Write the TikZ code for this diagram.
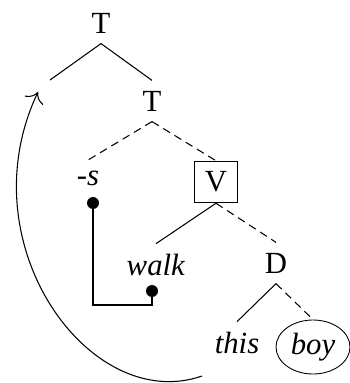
\documentclass[tikz,border=0pt]{standalone}
\usepackage{fontspec}
\setmainfont{Liberation Serif}
\usetikzlibrary{arrows, arrows.meta, calc, shapes.geometric}

\begin{document}
\begin{tikzpicture}[every node/.style={font=\fontsize{17.5}{20}\selectfont, inner sep=0.2cm},
		line width=0.6pt,
		dep/.style={dash pattern=on 4.5pt off 3pt},
		dot/.style={circle, fill, inner sep=0pt, minimum size=0.24cm}]
		\useasboundingbox (0,0) rectangle (6.98,-7.66);
		\node (t1) at (2.02,-0.46) {T};
		\coordinate (tgap) at (1.0,-1.6);
		\node (t2) at (3.04,-2.02) {T};
		\node (suf) at (1.76,-3.56) {-\textit{s}};
		\node[draw, line width=0.5pt, inner sep=0.21cm] (v) at (4.32,-3.64) {V};
		\node (walk) at (3.12,-5.30) {\textit{walk}};
		\node (d) at (5.52,-5.26) {D};
		\node (this) at (4.74,-6.86) {\textit{this}};
		\node[ellipse, draw, line width=0.5pt, inner sep=0pt, minimum width=1.48cm, minimum height=1.08cm] (boy) at (6.26,-6.94) {\textit{boy}};
		\node[dot] (sdot) at (1.86,-4.06) {};
		\node[dot] (wdot) at (3.04,-5.82) {};
		\coordinate (tail) at (4.04,-7.52);
		\coordinate (landing) at (0.76,-1.84);
		\draw (t1.south) -- (tgap); \draw (t1.south) -- (t2.north);
		\draw[dep] (t2.south) -- (suf.north); \draw[dep] (t2.south) -- (v.north);
		\draw (v.south) -- (walk.north); \draw[dep] (v.south) -- (d.north);
		\draw (d.south) -- (this.north); \draw[dep] (d.south) -- (boy.north);
		\draw (sdot.center) |- ($(wdot.center)+(0,-0.28)$) -- (wdot.center);
		\draw[-{To[scale=1.9]}] (tail) .. controls (1.8,-8.3) and (-0.68,-4.88) .. (landing);
	\end{tikzpicture}
\end{document}
